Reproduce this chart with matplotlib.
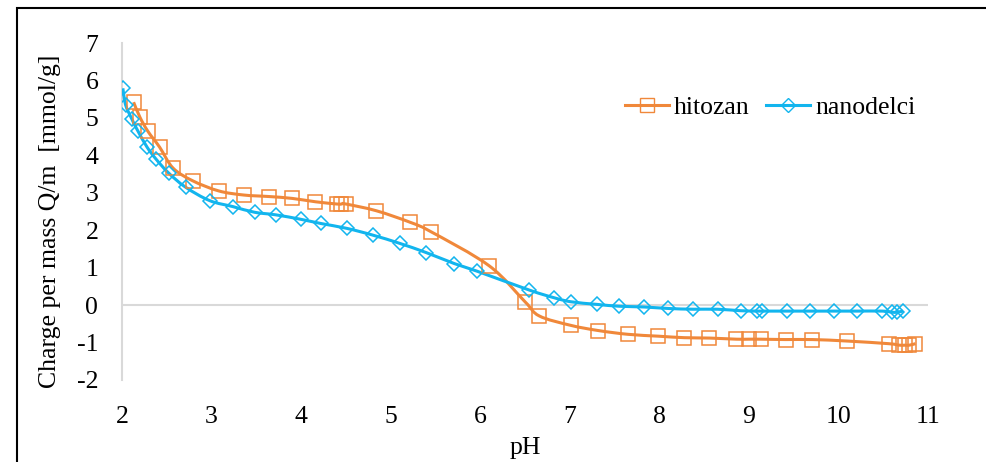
import numpy as np
import matplotlib.pyplot as plt
from matplotlib.path import Path
from matplotlib.patches import PathPatch, Rectangle
from matplotlib.lines import Line2D

plt.rcParams['font.family'] = ['Liberation Serif', 'DejaVu Serif']
plt.rcParams['axes.unicode_minus'] = False

# titration data: pH vs charge per mass [mmol/g]
ph_hitozan = [2.13, 2.20, 2.29, 2.42, 2.57, 2.79, 3.08, 3.36, 3.64, 3.90, 4.16, 4.40, 4.45,
              4.50, 4.84, 5.22, 5.45, 6.10, 6.50, 6.66, 7.01, 7.32, 7.65, 7.99, 8.28, 8.56,
              8.86, 9.00, 9.13, 9.41, 9.71, 10.10, 10.56, 10.68, 10.74, 10.79, 10.86]
q_hitozan = [5.42, 5.02, 4.64, 4.22, 3.66, 3.32, 3.05, 2.94, 2.90, 2.85, 2.76, 2.70, 2.70,
             2.70, 2.52, 2.21, 1.96, 1.05, 0.09, -0.29, -0.54, -0.68, -0.78, -0.83, -0.87, -0.88,
             -0.91, -0.91, -0.91, -0.92, -0.92, -0.96, -1.03, -1.07, -1.07, -1.07, -1.03]

ph_nano = [2.01, 2.04, 2.11, 2.18, 2.28, 2.38, 2.52, 2.71, 2.98, 3.24, 3.48, 3.72, 4.00, 4.22,
           4.51, 4.80, 5.10, 5.40, 5.71, 5.96, 6.55, 6.82, 7.01, 7.30, 7.55, 7.83, 8.10, 8.38,
           8.65, 8.91, 9.09, 9.15, 9.43, 9.68, 9.95, 10.21, 10.49, 10.60, 10.65, 10.72]
q_nano = [5.79, 5.35, 4.97, 4.64, 4.22, 3.90, 3.53, 3.15, 2.79, 2.63, 2.48, 2.41, 2.29, 2.18,
          2.05, 1.87, 1.65, 1.40, 1.11, 0.91, 0.40, 0.20, 0.09, 0.02, -0.03, -0.05, -0.09, -0.11,
          -0.11, -0.15, -0.16, -0.16, -0.16, -0.16, -0.16, -0.16, -0.16, -0.19, -0.19, -0.16]

c_orange = '#F0883A'
c_blue = '#12B5EE'
fs = 18.5


def smooth_path(x, y):
    # bezier segments like a spreadsheet "smoothed line"
    p = np.column_stack([x, y])
    n = len(p)
    verts = [p[0]]
    codes = [Path.MOVETO]
    for i in range(n - 1):
        p0 = p[i - 1] if i > 0 else p[i]
        p1 = p[i]
        p2 = p[i + 1]
        p3 = p[i + 2] if i + 2 < n else p[i + 1]
        verts += [p1 + (p2 - p0) / 6, p2 - (p3 - p1) / 6, p2]
        codes += [Path.CURVE4] * 3
    return Path(verts, codes)


fig = plt.figure(figsize=(9.86, 4.62), dpi=100)
ax = fig.add_axes([0.1237, 0.1775, 0.8175, 0.7294])

for x, y, col, mk, ms in [(ph_hitozan, q_hitozan, c_orange, 's', 10),
                          (ph_nano, q_nano, c_blue, 'D', 7)]:
    ax.add_patch(PathPatch(smooth_path(x, y), facecolor='none', edgecolor=col, lw=2.2,
                           zorder=3))
    ax.plot(x, y, ls='none', marker=mk, ms=ms, mfc='none', mec=col, mew=1.1, zorder=4)

ax.axhline(0, color='#D9D9D9', lw=1.5, zorder=1)
ax.set_xlim(2, 11)
ax.set_ylim(-2, 7)
ax.set_xticks(range(2, 12))
ax.set_yticks(range(-2, 8))
for s in ['top', 'right', 'bottom']:
    ax.spines[s].set_visible(False)
ax.spines['left'].set_color('#D9D9D9')
ax.spines['left'].set_linewidth(1.5)
ax.tick_params(axis='both', length=0, labelsize=fs)
ax.tick_params(axis='x', pad=19)
ax.tick_params(axis='y', pad=17)
ax.set_xlabel('pH', fontsize=fs, labelpad=6)
ax.set_ylabel('Charge per mass Q/m  [mmol/g]', fontsize=fs, va='center')
ax.yaxis.set_label_coords(-0.089, 0.472)

handles = [Line2D([], [], color=c_orange, lw=2.2, marker='s', ms=10, mfc='none', mec=c_orange),
           Line2D([], [], color=c_blue, lw=2.2, marker='D', ms=7, mfc='none', mec=c_blue)]
ax.legend(handles, ['hitozan', 'nanodelci'], loc='upper right', bbox_to_anchor=(1.013, 0.91),
          ncol=2, frameon=False, fontsize=fs, handlelength=1.7, handletextpad=0.2,
          columnspacing=0.65)

# outer frame
fig.add_artist(Rectangle((17 / 986, -0.1), 1.2, 1.1 - 8 / 462, transform=fig.transFigure,
                         fill=False, edgecolor='black', lw=1.5))

fig.savefig('out.png', dpi=100)
